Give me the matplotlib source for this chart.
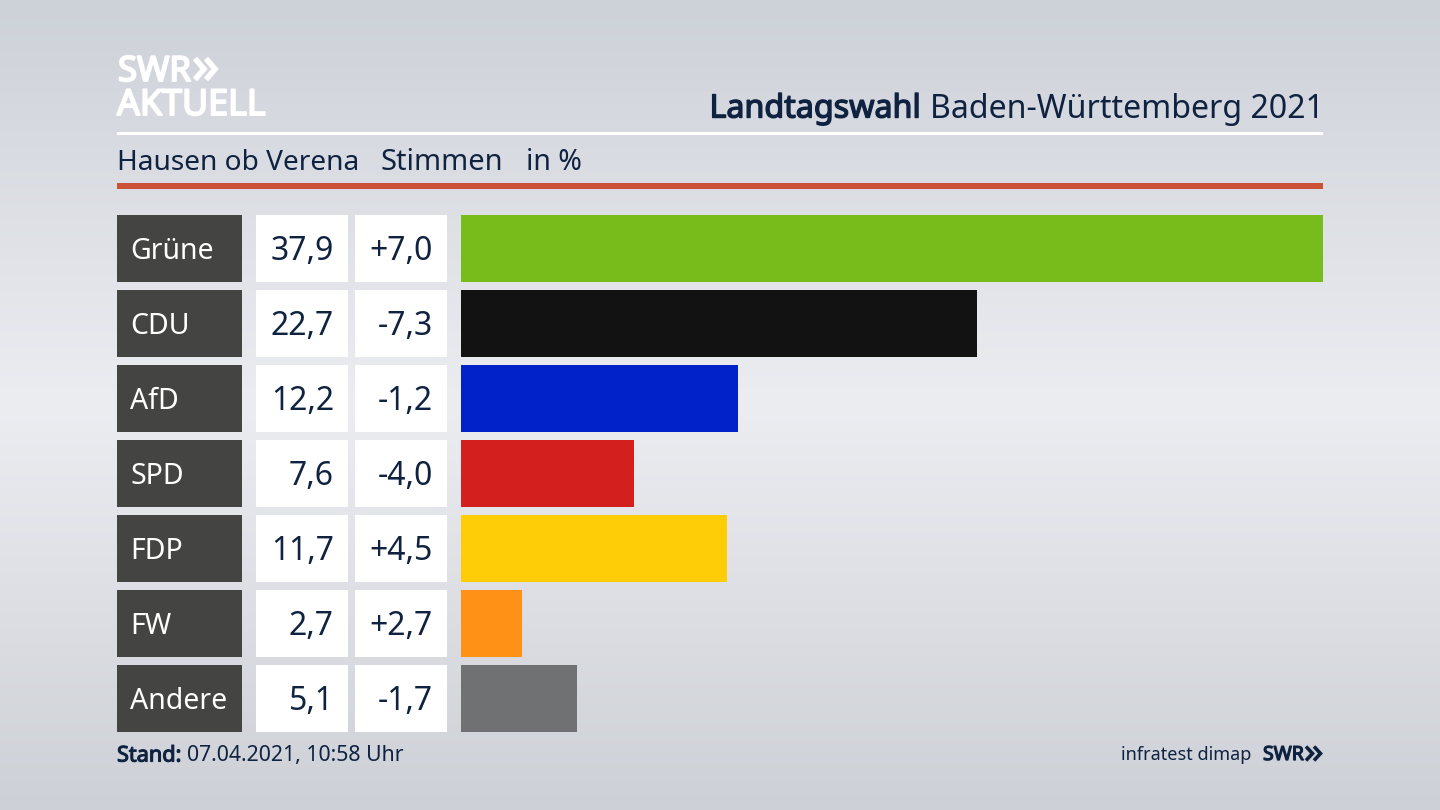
import matplotlib
matplotlib.use("Agg")

import matplotlib.patheffects as pe
import matplotlib.pyplot as plt
import numpy as np
from matplotlib.colors import LinearSegmentedColormap
from matplotlib.patches import Rectangle

parties = ["Grüne", "CDU", "AfD", "SPD", "FDP", "FW", "Andere"]
shares = [37.9, 22.7, 12.2, 7.6, 11.7, 2.7, 5.1]
share_labels = ["37,9", "22,7", "12,2", "7,6", "11,7", "2,7", "5,1"]
change_labels = ["+7,0", "-7,3", "-1,2", "-4,0", "+4,5", "+2,7", "-1,7"]
colors = ["#78bc1b", "#121212", "#0022c8", "#d41f1f", "#ffcc08", "#ff9116", "#707172"]

NAVY = "#0f2240"
plt.rcParams["font.family"] = "Noto Sans"

fig = plt.figure(figsize=(14.4, 8.1), dpi=100)

# background, pixel coordinates for everything that is not a bar
bg = fig.add_axes([0, 0, 1, 1])
bg.set_xlim(0, 1440)
bg.set_ylim(810, 0)
bg.axis("off")
cmap = LinearSegmentedColormap.from_list("bg", ["#cdd1d8", "#ecedf1", "#cdd0d6"])
grad = np.linspace(0, 1, 256).reshape(-1, 1)
bg.imshow(grad, extent=[0, 1440, 810, 0], aspect="auto", cmap=cmap, zorder=0)


def heavy(x, y, s, color, size, width=1.0, ha="left"):
    # the installed regular thickened with a stroke
    t = bg.text(x, y, s, color=color, fontsize=size, va="center", ha=ha)
    t.set_path_effects([pe.withStroke(linewidth=width, foreground=color)])
    return t


def chevrons(x, y, w, h, gap, lw, color):
    for dx in (0, gap):
        bg.plot([x + dx, x + dx + w, x + dx], [y - h / 2, y, y + h / 2], color=color,
                lw=lw, solid_joinstyle="miter", solid_capstyle="butt")


# logo
heavy(118, 72, "SWR", "white", 25, 1.4)
chevrons(195, 69, 9, 21, 11, 4, "white")
heavy(117, 106, "AKTUELL", "white", 25.8, 1.4)

# header
bg.text(1324, 109, "Baden-Württemberg 2021", color=NAVY, fontsize=23.1, va="center", ha="right")
heavy(921, 109, "Landtagswahl", NAVY, 23.2, 1.0, ha="right")
bg.add_patch(Rectangle((117, 132), 1206, 3, color="white", lw=0))
bg.text(117, 163, "Hausen ob Verena", color=NAVY, fontsize=20.2, va="center")
bg.text(381, 163, "Stimmen", color=NAVY, fontsize=20.9, va="center")
bg.text(526, 163, "in %", color=NAVY, fontsize=20.5, va="center")
bg.add_patch(Rectangle((117, 183), 1206, 6, color="#cb5236", lw=0))

# table cells
ROW_TOP = 215
ROW_STEP = 75
ROW_H = 66.5
for i, party in enumerate(parties):
    y = ROW_TOP + i * ROW_STEP
    yc = y + ROW_H / 2
    bg.add_patch(Rectangle((117, y), 124.5, ROW_H, color="#444442", lw=0))
    bg.add_patch(Rectangle((256, y), 92, ROW_H, color="white", lw=0))
    bg.add_patch(Rectangle((355, y), 92, ROW_H, color="white", lw=0))
    bg.text(130, yc + 3, party, color="white", fontsize=20.5, va="center", ha="left")
    bg.text(334, yc + 3, share_labels[i], color=NAVY, fontsize=23, va="center", ha="right")
    bg.text(433, yc + 3, change_labels[i], color=NAVY, fontsize=23, va="center", ha="right")

# footer
heavy(117, 756, "Stand:", NAVY, 15.6, 0.8)
bg.text(187, 756, "07.04.2021, 10:58 Uhr", color=NAVY, fontsize=15.3, va="center")
bg.text(1251, 755, "infratest dimap", color=NAVY, fontsize=13, va="center", ha="right")
heavy(1263, 755, "SWR", NAVY, 14, 0.9)
chevrons(1306, 753.5, 6.5, 14, 8, 2.6, NAVY)

# bars
bar_h = ROW_H / ROW_STEP
bar_bottom = ROW_TOP + 6 * ROW_STEP + ROW_H
ax = fig.add_axes([461 / 1440, 1 - bar_bottom / 810, 862 / 1440, (bar_bottom - ROW_TOP) / 810])
ax.patch.set_alpha(0)
ax.barh(range(len(parties)), shares, height=bar_h, color=colors)
ax.set_xlim(0, 37.9)
ax.set_ylim(6 + bar_h / 2, -bar_h / 2)
ax.axis("off")

fig.savefig("out.png", dpi=100)
plt.close(fig)
